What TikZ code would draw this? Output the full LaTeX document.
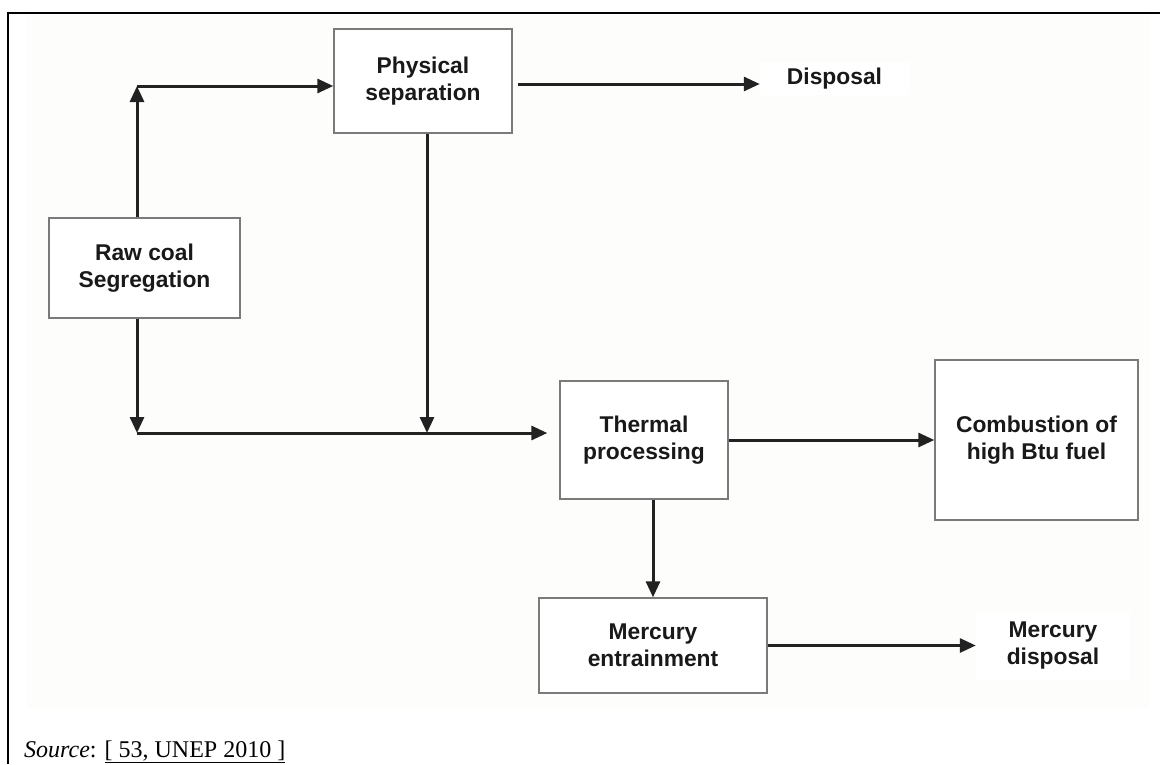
\documentclass[tikz,border=0pt]{standalone}
\usepackage{fontspec}
\setmainfont{Liberation Serif}
\newfontfamily\boxfont{Liberation Sans}
\usetikzlibrary{arrows.meta, positioning, calc}
\definecolor{pagebg}{HTML}{FDFDFB}
\definecolor{boxline}{HTML}{7A7A7A}
\definecolor{flowline}{HTML}{222222}

\begin{document}
\begin{tikzpicture}[x=1pt, y=-1pt,
    stage/.style={draw=boxline, line width=1.4pt, fill=white, align=center, inner sep=0pt,
        font=\boxfont\bfseries\fontsize{22.8}{27}\selectfont, text=black!90},
    outlet/.style={fill=white, align=center, inner sep=0pt,
        font=\boxfont\bfseries\fontsize{22.8}{27}\selectfont, text=black!90},
    flow/.style={draw=flowline, line width=3pt, -{Triangle[length=16pt, width=14pt]}}]
    \useasboundingbox (0,0) rectangle (1160,764);
    \fill[pagebg] (27,15) rectangle (1149,708);
    \draw[line width=2.6pt] (8,764) -- (8,13) -- (1160,13);

    % process boxes
    \node[stage, minimum width=191pt, minimum height=100pt] (raw) at (144.5,268) {Raw coal\\Segregation};
    \node[stage, minimum width=178pt, minimum height=104pt] (phys) at (423,81) {Physical\\separation};
    \node[stage, minimum width=168pt, minimum height=118pt] (therm) at (644,440) {Thermal\\processing};
    \node[stage, minimum width=203pt, minimum height=160pt] (comb) at (1036.5,440) {Combustion of\\high Btu fuel};
    \node[stage, minimum width=228pt, minimum height=95pt] (merc) at (653,645.5) {Mercury\\entrainment};

    % outlets
    \node[outlet, minimum width=149pt, minimum height=33pt] (disp) at (834.5,78.5) {Disposal};
    \node[outlet, minimum width=154pt, minimum height=68pt] (mdisp) at (1053,646) {Mercury\\disposal};

    \coordinate (upc) at (137,86);
    \coordinate (dnc) at (137,433);
    \coordinate (join) at (427,433);

    \draw[flow] (upc |- raw.north) -- (upc);
    \draw[flow] (upc) -- (upc -| phys.west);
    \draw[flow] (dnc |- raw.south) -- (dnc);
    \draw[flow, shorten >=12pt] (dnc) -- (dnc -| therm.west);
    \draw[flow] (join |- phys.south) -- (join);
    \draw[flow] ($(phys.east)+(5,3)$) -- ($(phys.east -| disp.west)+(0,3)$);
    \draw[flow] (therm.east) -- (comb.west);
    \draw[flow] (merc.north |- therm.south) -- (merc.north);
    \draw[flow] (merc.east) -- (merc.east -| mdisp.west);

    \node[anchor=base west, inner sep=0pt, font=\fontsize{24}{28}\selectfont] (src) at (24,757)
        {\textit{Source}: \underline{[ 53, UNEP 2010 ]}};
\end{tikzpicture}
\end{document}
